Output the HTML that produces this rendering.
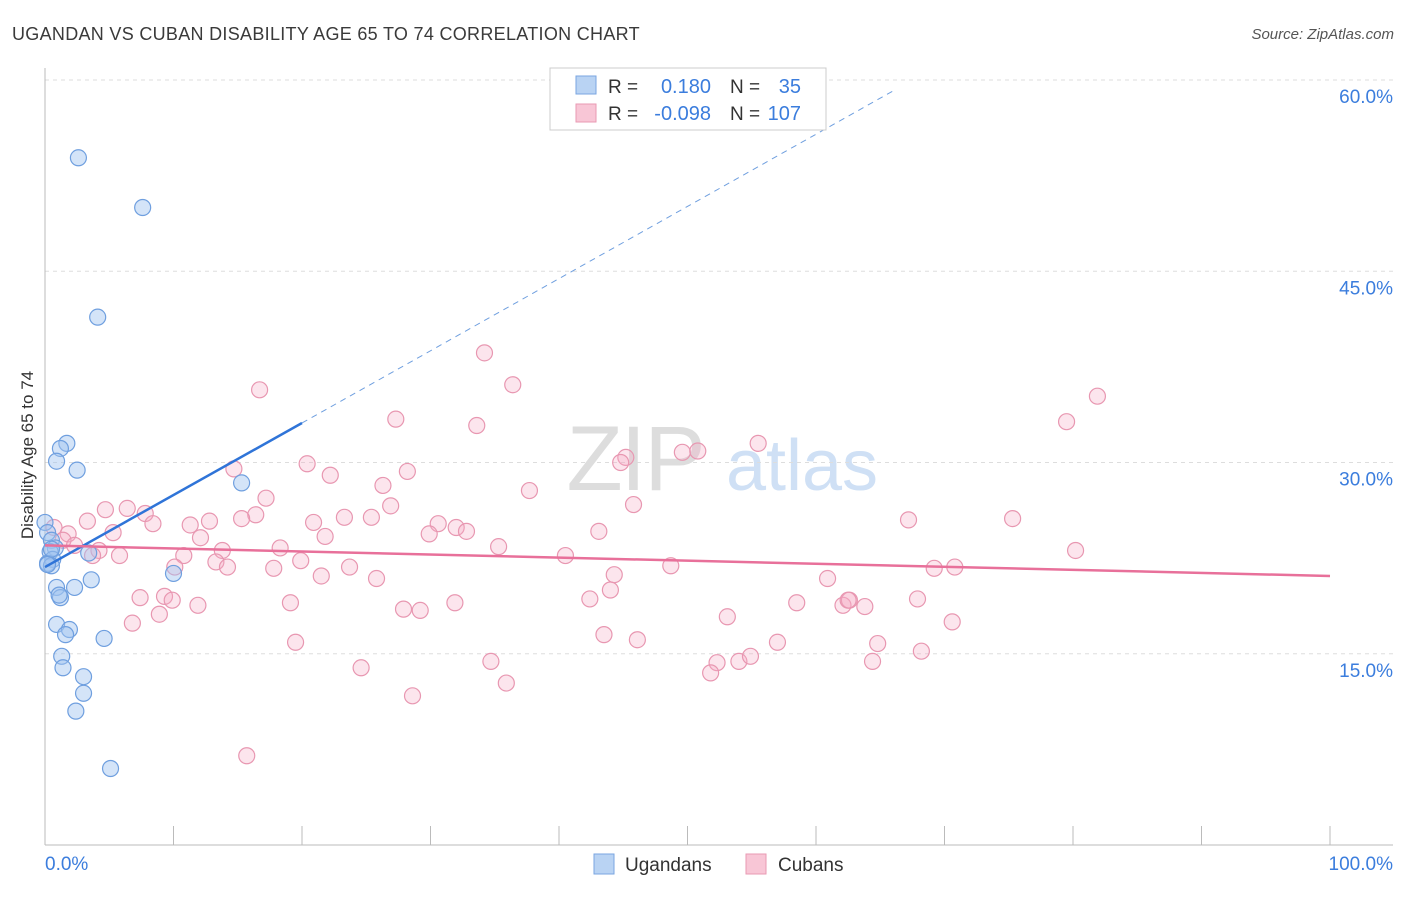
<!DOCTYPE html>
<html><head><meta charset="utf-8"><style>
body{margin:0;background:#fff;font-family:"Liberation Sans",sans-serif;}
svg text{font-family:"Liberation Sans",sans-serif;}
</style></head><body>
<svg id="chart" width="1406" height="892" xmlns="http://www.w3.org/2000/svg">
<text x="12" y="40" font-size="18" fill="#3a3a3a" letter-spacing="0.3">UGANDAN VS CUBAN DISABILITY AGE 65 TO 74 CORRELATION CHART</text>
<text x="1394" y="39" font-size="15" fill="#555" font-style="italic" text-anchor="end">Source: ZipAtlas.com</text>
<g>
<text x="635" y="490" font-size="92" fill="#ddd" text-anchor="middle" font-family="Liberation Serif" letter-spacing="-2">ZIP</text>
<text x="802" y="490" font-size="72" fill="#cfe0f5" text-anchor="middle">atlas</text>
</g>
<g id="grid"></g>
<g id="axes"></g>
<g id="pts"></g>
<g id="trend"></g>
<text transform="translate(33,455) rotate(-90)" font-size="17" fill="#333" text-anchor="middle">Disability Age 65 to 74</text>
<g>
<rect x="550" y="68" width="276" height="62" fill="#fff" stroke="#ccc"/>
<rect x="576" y="76" width="20" height="18" fill="#b9d3f3" stroke="#7aa6e0"/>
<rect x="576" y="104" width="20" height="18" fill="#f8c6d6" stroke="#e99ab3"/>
<text x="608" y="93" font-size="19" fill="#333">R = </text><text x="711" y="93" font-size="20" fill="#3b7ddd" text-anchor="end">0.180</text>
<text x="730" y="93" font-size="19" fill="#333">N = </text><text x="801" y="93" font-size="20" fill="#3b7ddd" text-anchor="end">35</text>
<text x="608" y="120" font-size="19" fill="#333">R = </text><text x="711" y="120" font-size="20" fill="#3b7ddd" text-anchor="end">-0.098</text>
<text x="730" y="120" font-size="19" fill="#333">N = </text><text x="801" y="120" font-size="20" fill="#3b7ddd" text-anchor="end">107</text>
</g>
<g>
<rect x="594" y="854" width="20" height="20" fill="#b9d3f3" stroke="#7aa6e0"/>
<text x="625" y="871" font-size="19" fill="#333">Ugandans</text>
<rect x="746" y="854" width="20" height="20" fill="#f8c6d6" stroke="#e99ab3"/>
<text x="778" y="871" font-size="19" fill="#333">Cubans</text>
</g>
</svg>
<script>
const yTicks=[15,30,45,60];
const yTickLabels=["15.0%","30.0%","45.0%","60.0%"];
const xTickLabels=["0.0%","100.0%"];
const ugX=[2.6,7.6,4.1,1.7,1.2,0.9,2.5,15.3,0,0.2,0.5,0.8,0.4,0.6,0.2,0.5,3.4,0.9,2.3,3.6,1.2,1.1,10.0,0.9,1.9,1.6,4.6,1.3,1.4,3.0,3.0,2.4,5.1,0.5,0.2];
const ugY=[53.9,50.0,41.4,31.5,31.1,30.1,29.4,28.4,25.3,24.5,23.9,23.3,23.0,22.4,22.1,21.9,22.9,20.2,20.2,20.8,19.4,19.6,21.3,17.3,16.9,16.5,16.2,14.8,13.9,13.2,11.9,10.5,6.0,23.2,22.0];
const cuX=[34.2,16.7,36.4,81.9,27.3,33.6,79.5,55.5,49.6,50.8,45.2,44.8,20.4,14.7,28.2,22.2,26.3,37.7,17.2,26.9,45.8,4.7,6.4,7.8,16.4,15.3,12.8,11.3,8.4,3.3,67.2,75.3,23.3,25.4,20.9,30.6,32.0,32.8,29.9,43.1,21.8,0.7,1.8,1.4,2.3,12.1,5.3,18.3,4.2,3.7,5.8,13.8,10.8,35.3,80.2,40.5,19.9,13.3,14.2,10.1,48.7,23.7,17.8,44.3,21.5,25.8,60.9,69.2,70.8,44.0,7.4,9.3,9.9,11.9,19.1,27.9,29.2,31.9,42.4,58.5,62.1,62.6,63.8,67.9,8.9,6.8,53.1,70.6,43.5,46.1,19.5,57.0,64.8,68.2,34.7,24.6,52.3,51.8,54.0,54.9,64.4,35.9,28.6,15.7,62.5];
const cuY=[38.6,35.7,36.1,35.2,33.4,32.9,33.2,31.5,30.8,30.9,30.4,30.0,29.9,29.5,29.3,29.0,28.2,27.8,27.2,26.6,26.7,26.3,26.4,26.0,25.9,25.6,25.4,25.1,25.2,25.4,25.5,25.6,25.7,25.7,25.3,25.2,24.9,24.6,24.4,24.6,24.2,24.9,24.4,23.9,23.5,24.1,24.5,23.3,23.1,22.7,22.7,23.1,22.7,23.4,23.1,22.7,22.3,22.2,21.8,21.8,21.9,21.8,21.7,21.2,21.1,20.9,20.9,21.7,21.8,20.0,19.4,19.5,19.2,18.8,19.0,18.5,18.4,19.0,19.3,19.0,18.8,19.2,18.7,19.3,18.1,17.4,17.9,17.5,16.5,16.1,15.9,15.9,15.8,15.2,14.4,13.9,14.3,13.5,14.4,14.8,14.4,12.7,11.7,7.0,19.2];
const ugTrend=[21.8,33.1,59.2]; // at x=0,20,66.1
const ugTrendX=[0,20,66.1];
const cuTrend=[23.5,21.1];
const cuTrendX=[0,100];
const NS="http://www.w3.org/2000/svg";
const X=v=>45+v*12.85, Y=v=>845-v*12.75;
function mk(tag,attrs,parent){const e=document.createElementNS(NS,tag);for(const k in attrs)e.setAttribute(k,attrs[k]);parent.appendChild(e);return e;}
const grid=document.getElementById('grid'),axes=document.getElementById('axes'),pts=document.getElementById('pts'),tr=document.getElementById('trend');
yTicks.forEach((t,i)=>{
 const l=mk('line',{x1:45,x2:1393,y1:Y(t),y2:Y(t),stroke:'#ddd','stroke-dasharray':'4,4'},grid);
 
 
 const tx=mk('text',{x:1393,y:Y(t)+23,'font-size':19,fill:'#3b7ddd','text-anchor':'end'},axes);
 tx.textContent=yTickLabels[i];
 
 
});
const ax=mk('line',{x1:45,x2:1393,y1:845,y2:845,stroke:'#bbb'},axes);


const ay=mk('line',{x1:45,x2:45,y1:68,y2:845,stroke:'#bbb'},axes);


for(let i=0;i<=10;i++){
 const t=mk('line',{x1:X(i*10),x2:X(i*10),y1:826,y2:845,stroke:'#bbb'},axes);
 
 
}
const xl0=mk('text',{x:45,y:870,'font-size':19,fill:'#3b7ddd'},axes);xl0.textContent=xTickLabels[0];


const xl1=mk('text',{x:1393,y:870,'font-size':19,fill:'#3b7ddd','text-anchor':'end'},axes);xl1.textContent=xTickLabels[1];


cuX.forEach((v,i)=>{
 const c=mk('circle',{cx:X(v),cy:Y(cuY[i]),r:8,fill:'rgba(245,170,195,0.3)',stroke:'#e897b1','stroke-width':1.2},pts);
 
 
});
ugX.forEach((v,i)=>{
 const c=mk('circle',{cx:X(v),cy:Y(ugY[i]),r:8,fill:'rgba(160,195,240,0.45)',stroke:'#6f9fdf','stroke-width':1.2},pts);
 
 
});
const u1=mk('line',{x1:X(ugTrendX[0]),y1:Y(ugTrend[0]),x2:X(ugTrendX[1]),y2:Y(ugTrend[1]),stroke:'#2f74d8','stroke-width':2.5},tr);


const u2=mk('line',{x1:X(ugTrendX[1]),y1:Y(ugTrend[1]),x2:X(ugTrendX[2]),y2:Y(ugTrend[2]),stroke:'#6f9fdf','stroke-width':1,'stroke-dasharray':'6,5'},tr);


const c1=mk('line',{x1:X(cuTrendX[0]),y1:Y(cuTrend[0]),x2:X(cuTrendX[1]),y2:Y(cuTrend[1]),stroke:'#e8709a','stroke-width':2.5},tr);


</script>
</body></html>
